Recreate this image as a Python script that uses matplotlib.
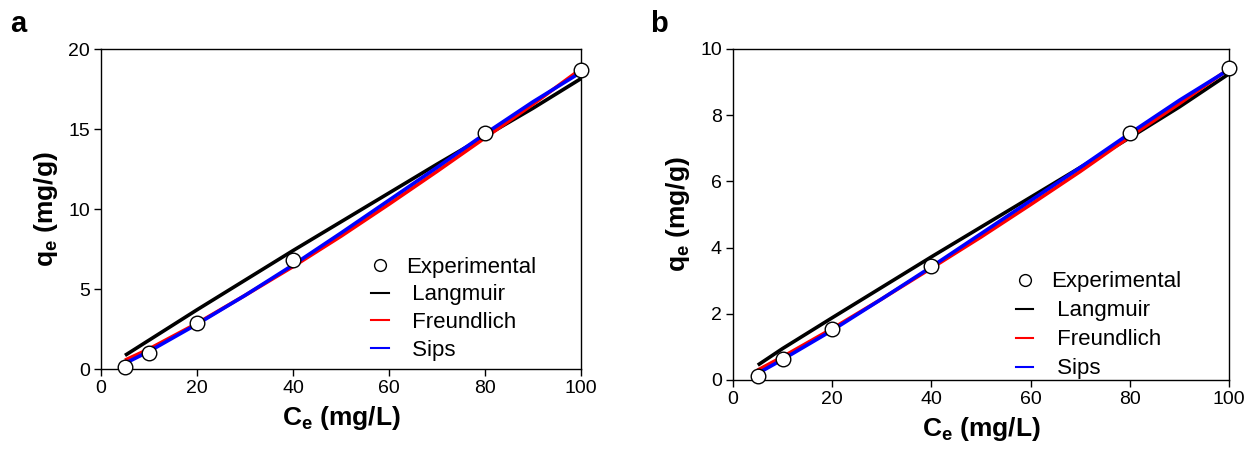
import matplotlib
matplotlib.use("Agg")
import matplotlib.pyplot as plt
from matplotlib.lines import Line2D

plt.rcParams['font.family'] = ['Liberation Sans', 'DejaVu Sans']
plt.rcParams['mathtext.fontset'] = 'custom'
plt.rcParams['mathtext.rm'] = 'Liberation Sans'
plt.rcParams['mathtext.bf'] = 'Liberation Sans:bold'
plt.rcParams['mathtext.it'] = 'Liberation Sans:italic'

# ---- data ----
ce_exp = [5, 10, 20, 40, 80, 100]
ce_fit = [5, 10, 20, 30, 40, 50, 60, 70, 80, 90, 100]

a_exp = [0.1, 1.0, 2.9, 6.8, 14.75, 18.7]
a_langmuir = [0.85, 1.8, 3.7, 5.55, 7.4, 9.2, 11.0, 12.8, 14.55, 16.3, 18.15]
a_freundlich = [0.55, 1.25, 2.85, 4.6, 6.4, 8.3, 10.3, 12.35, 14.45, 16.55, 18.75]
a_sips = [0.35, 1.1, 2.8, 4.6, 6.5, 8.5, 10.55, 12.6, 14.7, 16.7, 18.55]

b_exp = [0.12, 0.62, 1.55, 3.45, 7.45, 9.42]
b_langmuir = [0.45, 0.95, 1.88, 2.8, 3.72, 4.62, 5.52, 6.42, 7.32, 8.25, 9.25]
b_freundlich = [0.3, 0.7, 1.55, 2.45, 3.38, 4.32, 5.3, 6.3, 7.35, 8.35, 9.4]
b_sips = [0.2, 0.62, 1.5, 2.45, 3.42, 4.42, 5.42, 6.42, 7.45, 8.45, 9.38]

xticks = [0, 20, 40, 60, 80, 100]
a_yticks = [0, 5, 10, 15, 20]
b_yticks = [0, 2, 4, 6, 8, 10]

labels = ["Experimental", " Langmuir", " Freundlich", " Sips"]
colors = ["black", "#ff0000", "#0000ff"]

W, H = 1253, 457
fig = plt.figure(figsize=(W / 100, H / 100), dpi=100)

def px_axes(x0, y0, x1, y1):
    return fig.add_axes([x0 / W, 1 - y1 / H, (x1 - x0) / W, (y1 - y0) / H])

ax_a = px_axes(101, 49, 581, 369)
ax_b = px_axes(733, 49, 1229, 380)

def draw(ax, exp, lang, freu, sips, yticks, ymax, leg_anchor, lspace):
    ax.plot(ce_fit, lang, color=colors[0], lw=2.6, solid_capstyle='butt', zorder=2)
    ax.plot(ce_fit, freu, color=colors[1], lw=2.6, solid_capstyle='butt', zorder=3)
    ax.plot(ce_fit, sips, color=colors[2], lw=2.6, solid_capstyle='butt', zorder=4)
    ax.plot(ce_exp, exp, ls='none', marker='o', ms=10.5, mfc='white', mec='black',
            mew=1.0, zorder=5, clip_on=False)
    ax.set_xlim(0, 100)
    ax.set_ylim(0, ymax)
    ax.set_xticks(xticks)
    ax.set_yticks(yticks)
    ax.tick_params(direction='out', length=5, width=1, labelsize=14, pad=3)
    for s in ax.spines.values():
        s.set_linewidth(1.0)
    ax.set_xlabel(r"$\mathbf{C_e}$ (mg/L)", fontsize=19, fontweight='bold', labelpad=5)
    ax.set_ylabel(r"$\mathbf{q_e}$ (mg/g)", fontsize=19, fontweight='bold', labelpad=6)
    handles = [
        Line2D([], [], ls='none', marker='o', ms=8.5, mfc='white', mec='black', mew=1.0),
        Line2D([], [], color=colors[0], lw=1.5),
        Line2D([], [], color=colors[1], lw=1.5),
        Line2D([], [], color=colors[2], lw=1.5),
    ]
    ax.legend(handles, labels, loc='upper left', bbox_to_anchor=leg_anchor,
              frameon=False, fontsize=16, handlelength=0.8, handletextpad=0.8,
              labelspacing=lspace, borderpad=0, borderaxespad=0)

draw(ax_a, a_exp, a_langmuir, a_freundlich, a_sips, a_yticks, 20, (0.562, 0.351), 0.3)
draw(ax_b, b_exp, b_langmuir, b_freundlich, b_sips, b_yticks, 10, (0.57, 0.328), 0.36)

fig.text(10 / W, 1 - 24 / H, "a", fontsize=21, fontweight='bold', va='center', ha='left')
fig.text(650 / W, 1 - 24 / H, "b", fontsize=21, fontweight='bold', va='center', ha='left')

fig.savefig("out.png", dpi=100)
